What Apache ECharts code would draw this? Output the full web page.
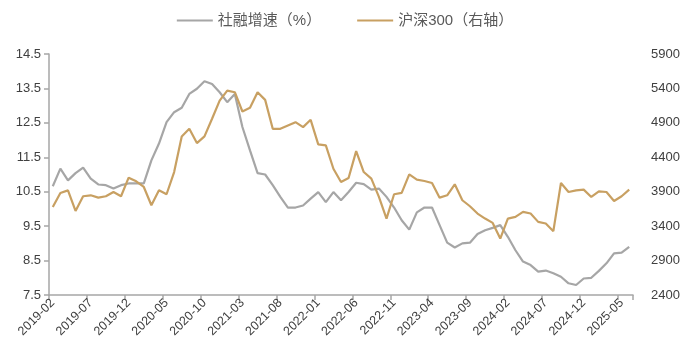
<!DOCTYPE html>
<html>
<head>
<meta charset="utf-8">
<script src="https://cdn.jsdelivr.net/npm/echarts@6/dist/echarts.min.js"></script>
<style>
html,body{margin:0;padding:0;background:#fff;}
#c{width:690px;height:359px;}
</style>
</head>
<body>
<div id="c"></div>
<script>
// Months 2019-02 .. 2025-06
var categories = [];
(function(){
  var y = 2019, m = 2;
  while (y < 2025 || (y === 2025 && m <= 6)) {
    categories.push(y + '-' + (m < 10 ? '0' + m : '' + m));
    m++; if (m > 12) { m = 1; y++; }
  }
})();

var tsfGrowth = [
  10.66, 11.17, 10.83, 11.04, 11.20, 10.88, 10.71, 10.69, 10.59, 10.69, 10.74,
  10.74, 10.74, 11.41, 11.90, 12.52, 12.81, 12.94, 13.34, 13.49, 13.71, 13.63, 13.39,
  13.10, 13.34, 12.38, 11.70, 11.04, 11.00, 10.69, 10.35, 10.04, 10.04, 10.10, 10.30,
  10.49, 10.20, 10.49, 10.25, 10.49, 10.76, 10.72, 10.56, 10.59, 10.35, 10.04, 9.67,
  9.40, 9.90, 10.04, 10.04, 9.53, 9.02, 8.88, 9.00, 9.02, 9.27, 9.38, 9.45,
  9.53, 9.19, 8.80, 8.47, 8.37, 8.18, 8.21, 8.13, 8.03, 7.84, 7.79, 7.98,
  8.00, 8.20, 8.42, 8.71, 8.73, 8.90
];

var csi300 = [
  3679, 3882, 3920, 3621, 3834, 3848, 3814, 3834, 3896, 3834, 4104,
  4051, 3969, 3703, 3920, 3863, 4186, 4703, 4814, 4606, 4703, 4959, 5224,
  5369, 5345, 5065, 5118, 5345, 5234, 4814, 4814, 4862, 4910, 4838, 4944,
  4587, 4572, 4234, 4041, 4099, 4490, 4186, 4089, 3824, 3510, 3863, 3882,
  4152, 4075, 4056, 4027, 3814, 3848, 4007, 3776, 3689, 3583, 3510, 3447,
  3220, 3510, 3534, 3607, 3583, 3462, 3438, 3327, 4027, 3896, 3920, 3930,
  3824, 3906, 3896, 3766, 3834, 3930
];

var seriesNames = ['社融增速（%）', '沪深300（右轴）'];

var chart = echarts.init(document.getElementById('c'), null, {renderer: 'canvas'});
var labelFont = 'Arial, "Liberation Sans", "Noto Sans CJK SC", sans-serif';
chart.setOption({
  animation: false,
  backgroundColor: '#ffffff',
  color: ['#a6a6a6', '#c8a062'],
  legend: {
    top: 8,
    left: 'center',
    itemWidth: 36,
    itemHeight: 2,
    itemGap: 36,
    icon: 'rect',
    textStyle: {fontSize: 15, color: '#595959', fontFamily: labelFont},
    data: seriesNames
  },
  grid: {left: 49, right: 57, top: 54, bottom: 64, containLabel: false},
  xAxis: {
    type: 'category',
    data: categories,
    boundaryGap: true,
    axisLine: {lineStyle: {color: '#a6a6a6', width: 1.5}},
    axisTick: {show: true, interval: 4, length: 5, lineStyle: {color: '#a6a6a6', width: 1.5}},
    axisLabel: {interval: 4, rotate: 45, fontSize: 12.5, color: '#404040', fontFamily: labelFont, margin: 6},
    splitLine: {show: false}
  },
  yAxis: [
    {
      type: 'value',
      min: 7.5, max: 14.5, interval: 1,
      axisLine: {show: true, lineStyle: {color: '#a6a6a6', width: 1.5}},
      axisTick: {show: true, length: 5, lineStyle: {color: '#a6a6a6', width: 1.5}},
      axisLabel: {fontSize: 13, color: '#404040', fontFamily: labelFont, margin: 8,
        formatter: function(v){ return v.toFixed(1); }},
      splitLine: {show: false}
    },
    {
      type: 'value',
      min: 2400, max: 5900, interval: 500,
      position: 'right',
      axisLine: {show: false},
      axisTick: {show: false},
      axisLabel: {fontSize: 13, color: '#404040', fontFamily: labelFont, margin: 18,
        formatter: function(v){ return String(Math.round(v)); }},
      splitLine: {show: false}
    }
  ],
  series: [
    {
      name: seriesNames[0], type: 'line', data: tsfGrowth, yAxisIndex: 0,
      symbol: 'none', lineStyle: {width: 2.2, color: '#a6a6a6'}, itemStyle: {color: '#a6a6a6'}
    },
    {
      name: seriesNames[1], type: 'line', data: csi300, yAxisIndex: 1,
      symbol: 'none', lineStyle: {width: 2.2, color: '#c8a062'}, itemStyle: {color: '#c8a062'}
    }
  ]
});
</script>
</body>
</html>
